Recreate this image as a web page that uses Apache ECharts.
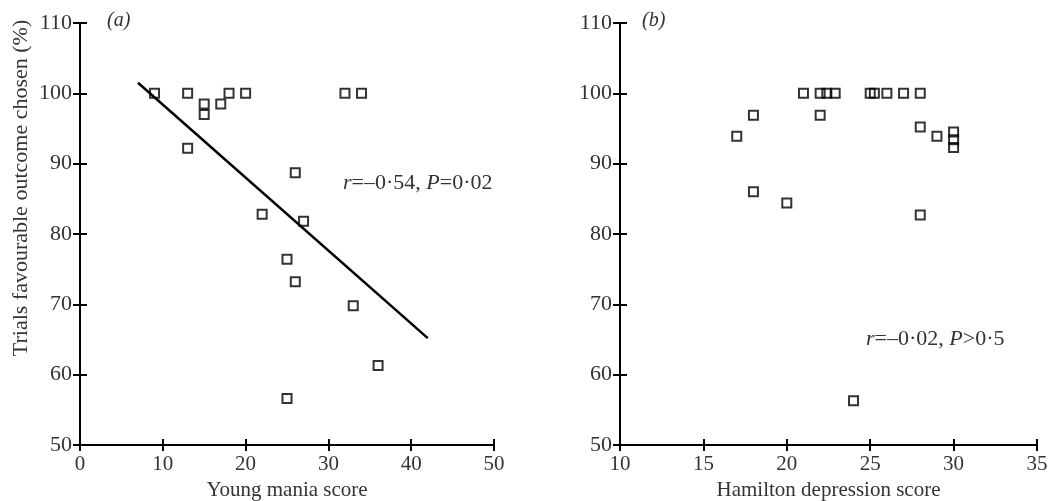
<!DOCTYPE html>
<html>
<head>
<meta charset="utf-8">
<script src="https://cdn.jsdelivr.net/npm/echarts@6/dist/echarts.min.js"></script>
<style>html,body{margin:0;padding:0;background:#fff}#c{width:1050px;height:501px}</style>
</head>
<body>
<div id="c"></div>
<script>
// ---- data ----
const maniaX = [9, 13, 15, 15, 17, 18, 20, 13, 26, 22, 27, 25, 26, 33, 36, 25, 32, 34];
const maniaY = [100, 100, 98.5, 97, 98.5, 100, 100, 92.2, 88.7, 82.8, 81.8, 76.4, 73.2, 69.8, 61.3, 56.6, 100, 100];
const fitX = [7, 42];
const fitY = [101.5, 65.2];
const hamX = [17, 18, 18, 20, 21, 22, 22, 22.4, 22.9, 25, 25.25, 26, 27, 28, 28, 28, 29, 30, 30, 30, 24];
const hamY = [93.9, 96.9, 86.0, 84.4, 100, 96.9, 100, 100, 100, 100, 100, 100, 100, 100, 95.2, 82.7, 93.9, 94.5, 93.4, 92.3, 56.3];
const yTitle = 'Trials favourable outcome chosen (%)';
const xTitleA = 'Young mania score';
const xTitleB = 'Hamilton depression score';

const FONT = '"Liberation Serif", "DejaVu Serif", serif';
const TXT = '#333';
const zip = (a, b) => a.map((v, i) => [v, b[i]]);

function xAxes(gi, min, max, interval, name) {
  return [
    {
      type: 'value', gridIndex: gi, min, max, interval,
      name, nameLocation: 'middle', nameGap: 34,
      nameTextStyle: { fontFamily: FONT, fontSize: 21, color: TXT },
      axisLine: { lineStyle: { color: '#000', width: 2 } },
      axisTick: { inside: false, length: 6, lineStyle: { color: '#000', width: 2 } },
      axisLabel: { fontFamily: FONT, fontSize: 21, color: TXT, margin: 9 },
      splitLine: { show: false }
    },
    {
      type: 'value', gridIndex: gi, min, max, interval, position: 'bottom',
      axisLine: { show: false },
      axisTick: { inside: true, length: 6, lineStyle: { color: '#000', width: 2 } },
      axisLabel: { show: false }, splitLine: { show: false }
    }
  ];
}
function yAxes(gi) {
  return [
    {
      type: 'value', gridIndex: gi, min: 50, max: 110, interval: 10,
      axisLine: { lineStyle: { color: '#000', width: 2 } },
      axisTick: { inside: false, length: 7, lineStyle: { color: '#000', width: 2 } },
      axisLabel: { fontFamily: FONT, fontSize: 22, color: TXT, margin: 8 },
      splitLine: { show: false }
    },
    {
      type: 'value', gridIndex: gi, min: 50, max: 110, interval: 10, position: 'left',
      axisLine: { show: false },
      axisTick: { inside: true, length: 7, lineStyle: { color: '#000', width: 2 } },
      axisLabel: { show: false }, splitLine: { show: false }
    }
  ];
}
const sq = {
  type: 'scatter', symbol: 'rect', symbolSize: 9,
  itemStyle: { color: 'rgba(0,0,0,0)', borderColor: '#000', borderWidth: 2 },
  emphasis: { disabled: true }
};
const rich = { i: { fontStyle: 'italic', fontFamily: FONT, fontSize: 22, fill: TXT } };

const chart = echarts.init(document.getElementById('c'), null, { renderer: 'canvas' });
chart.setOption({
  animation: false,
  backgroundColor: '#fff',
  grid: [
    { left: 80, right: 556, top: 23, bottom: 56, containLabel: false, outerBoundsMode: 'none' },
    { left: 620, right: 13, top: 23, bottom: 56, containLabel: false, outerBoundsMode: 'none' }
  ],
  xAxis: [...xAxes(0, 0, 50, 10, xTitleA), ...xAxes(1, 10, 35, 5, xTitleB)],
  yAxis: [...yAxes(0), ...yAxes(1)],
  series: [
    { ...sq, xAxisIndex: 0, yAxisIndex: 0, data: zip(maniaX, maniaY) },
    {
      type: 'line', xAxisIndex: 0, yAxisIndex: 0, data: zip(fitX, fitY),
      showSymbol: false, symbol: 'none', lineStyle: { color: '#000', width: 2.5 }, z: 1
    },
    { ...sq, xAxisIndex: 2, yAxisIndex: 2, data: zip(hamX, hamY) }
  ],
  graphic: [
    {
      type: 'text', x: 21, y: 188, rotation: Math.PI / 2,
      style: { text: yTitle, font: '22px ' + FONT, fill: TXT, align: 'center', verticalAlign: 'middle' }
    },
    { type: 'text', left: 107, top: 11, style: { text: '(a)', font: 'italic 20px ' + FONT, fill: TXT } },
    { type: 'text', left: 642, top: 11, style: { text: '(b)', font: 'italic 20px ' + FONT, fill: TXT } },
    {
      type: 'text', left: 343, top: 172,
      style: { text: '{i|r}=\u20130\u00b754, {i|P}=0\u00b702', font: '22px ' + FONT, fill: TXT, rich }
    },
    {
      type: 'text', left: 866, top: 328,
      style: { text: '{i|r}=\u20130\u00b702, {i|P}>0\u00b75', font: '22px ' + FONT, fill: TXT, rich }
    }
  ]
});
</script>
</body>
</html>
